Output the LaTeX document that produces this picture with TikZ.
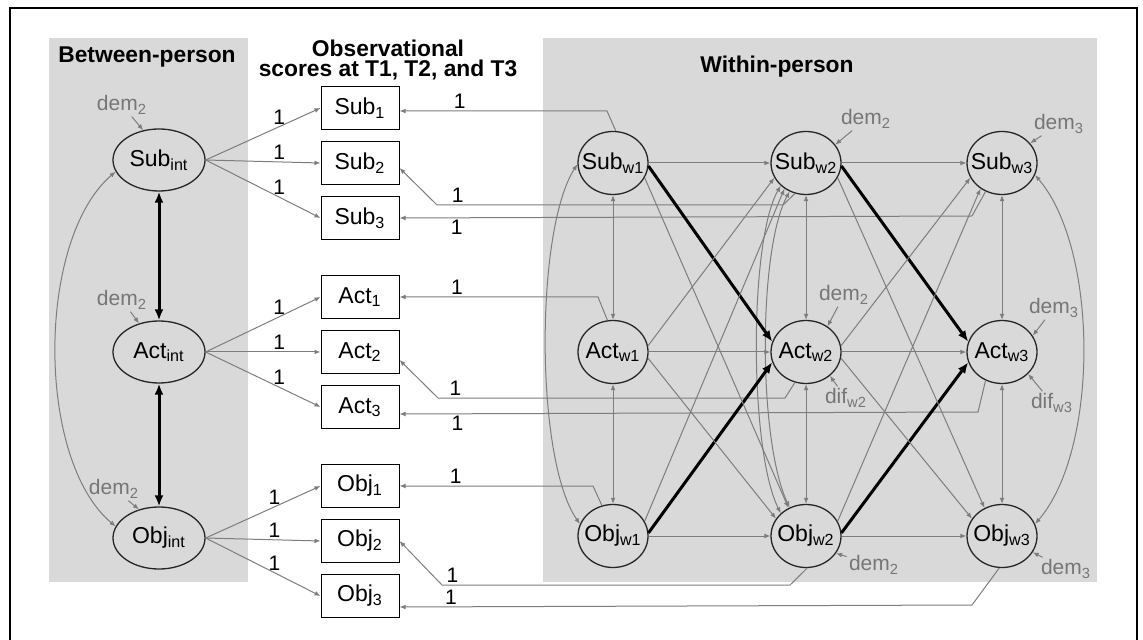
\documentclass[tikz,border=0pt]{standalone}
\usepackage{fontspec}
\setmainfont{Liberation Sans}
\usetikzlibrary{shapes.geometric,arrows.meta,positioning,calc}
\definecolor{panelgray}{RGB}{217,217,217}
\definecolor{linegray}{RGB}{125,125,125}
\definecolor{labelgray}{RGB}{118,118,118}
\tikzstyle{between} = [ellipse, draw=black!85, line width=0.65pt, minimum width=46pt, minimum height=31pt, inner sep=0pt, font=\fontsize{11.5}{12}\selectfont]
\tikzstyle{within} = [ellipse, draw=black!85, line width=0.65pt, minimum width=35pt, minimum height=31.5pt, inner xsep=-4pt, inner ysep=0pt, font=\fontsize{11.5}{12}\selectfont]
\tikzstyle{observed} = [rectangle, draw=black, line width=0.5pt, fill=white, minimum width=39pt, minimum height=21.5pt, inner sep=0pt, font=\fontsize{11.5}{12}\selectfont]
\tikzstyle{arrow} = [draw=linegray, line width=0.5pt, -{Latex[length=3pt,width=2.4pt]}]
\tikzstyle{dblarrow} = [draw=linegray, line width=0.5pt, {Latex[length=3pt,width=2.4pt]}-{Latex[length=3pt,width=2.4pt]}]
\tikzstyle{bigarrow} = [draw=black, line width=1.5pt, -{Latex[length=5.5pt,width=4.5pt]}]
\tikzstyle{bigdbl} = [draw=black, line width=1.5pt, {Latex[length=5.5pt,width=4.5pt]}-{Latex[length=5.5pt,width=4.5pt]}]
\tikzstyle{resid} = [text=labelgray, inner sep=1pt, font=\fontsize{10.5}{12}\selectfont]
\tikzstyle{one} = [inner sep=1pt, font=\fontsize{10.5}{12}\selectfont]
\tikzstyle{title} = [align=center, font=\bfseries\fontsize{11.4}{10}\selectfont]

\begin{document}
\begin{tikzpicture}[x=0.5pt, y=-0.5pt]
\useasboundingbox (0,0) rectangle (1143,640);
\draw[line width=0.8pt] (10,640) -- (10,8) -- (1137,8) -- (1137,640);
\fill[panelgray] (49,38) rectangle (248,582);
\fill[panelgray] (543,38) rectangle (1097,582);

\node[title] (tbetween) at (147,57) {Between-person};
\node[title] (tobs) at (388,60) {Observational\\scores at T1, T2, and T3};
\node[title] (twithin) at (777,67) {Within-person};

% between-person intercepts
\node[between] (Sint) at (159,160) {Sub\textsubscript{int}};
\node[between] (Aint) at (159,352) {Act\textsubscript{int}};
\node[between] (Oint) at (159,538) {Obj\textsubscript{int}};

% observed scores
\node[observed] (Sub1) at (360,108) {Sub\textsubscript{1}};
\node[observed, below=5.5pt of Sub1] (Sub2) {Sub\textsubscript{2}};
\node[observed, below=5.5pt of Sub2] (Sub3) {Sub\textsubscript{3}};
\node[observed] (Act1) at (360,297) {Act\textsubscript{1}};
\node[observed, below=5.5pt of Act1] (Act2) {Act\textsubscript{2}};
\node[observed, below=5.5pt of Act2] (Act3) {Act\textsubscript{3}};
\node[observed] (Obj1) at (360,486) {Obj\textsubscript{1}};
\node[observed, below=5.5pt of Obj1] (Obj2) {Obj\textsubscript{2}};
\node[observed, below=5.5pt of Obj2] (Obj3) {Obj\textsubscript{3}};

% within-person
\node[within] (Sw1) at (613,163) {Sub\textsubscript{w1}};
\node[within] (Sw2) at (806,163) {Sub\textsubscript{w2}};
\node[within] (Sw3) at (1002,163) {Sub\textsubscript{w3}};
\node[within] (Aw1) at (613,352) {Act\textsubscript{w1}};
\node[within] (Aw2) at (806,352) {Act\textsubscript{w2}};
\node[within] (Aw3) at (1002,352) {Act\textsubscript{w3}};
\node[within] (Ow1) at (613,536) {Obj\textsubscript{w1}};
\node[within] (Ow2) at (806,536) {Obj\textsubscript{w2}};
\node[within] (Ow3) at (1002,536) {Obj\textsubscript{w3}};

% covariates
\node[resid] (dSint) at (122,105) {dem\textsubscript{2}};
\node[resid] (dAint) at (122,300) {dem\textsubscript{2}};
\node[resid] (dOint) at (114,489) {dem\textsubscript{2}};
\node[resid] (dSw2) at (866,119) {dem\textsubscript{2}};
\node[resid] (dSw3) at (1059,124) {dem\textsubscript{3}};
\node[resid] (dAw2) at (844,295) {dem\textsubscript{2}};
\node[resid] (dAw3) at (1054,308) {dem\textsubscript{3}};
\node[resid] (fAw2) at (846,398) {dif\textsubscript{w2}};
\node[resid] (fAw3) at (1052,403) {dif\textsubscript{w3}};
\node[resid] (dOw2) at (874,565) {dem\textsubscript{2}};
\node[resid] (dOw3) at (1066,569) {dem\textsubscript{3}};

\draw[arrow] (dSint) -- (Sint.118);
\draw[arrow] (dAint) -- (Aint.125);
\draw[arrow] (dOint) -- (Oint.125);
\draw[arrow] (dSw2) -- (Sw2.32);
\draw[arrow] (dSw3) -- (Sw3.35);
\draw[arrow] (dAw2) -- (Aw2.50);
\draw[arrow] (dAw3) -- (Aw3.28);
\draw[arrow] (fAw2) -- (Aw2.-45);
\draw[arrow] (fAw3) -- (Aw3.-40);
\draw[arrow] (dOw2) -- (Ow2.-30);
\draw[arrow] (dOw3) -- (Ow3.-28);

% between-person paths
\draw[bigdbl] (Sint) -- (Aint);
\draw[bigdbl] (Aint) -- (Oint);
\draw[dblarrow] (Sint.195) .. controls (36,240) and (36,460) .. (Oint.165);
\draw[arrow] (Sint.east) -- node[one, above, pos=0.64] {1} (Sub1.west);
\draw[arrow] (Sint.east) -- node[one, above, pos=0.64] {1} (Sub2.west);
\draw[arrow] (Sint.east) -- node[one, above, pos=0.64] {1} (Sub3.west);
\draw[arrow] (Aint.east) -- node[one, above, pos=0.64] {1} (Act1.west);
\draw[arrow] (Aint.east) -- node[one, above, pos=0.64] {1} (Act2.west);
\draw[arrow] (Aint.east) -- node[one, above, pos=0.64] {1} (Act3.west);
\draw[arrow] (Oint.east) -- node[one, above, pos=0.6] {1} (Obj1.west);
\draw[arrow] (Oint.east) -- node[one, above, pos=0.6] {1} (Obj2.west);
\draw[arrow] (Oint.east) -- node[one, above, pos=0.6] {1} (Obj3.west);

% within-person loadings
\draw[arrow] (Sw1.85) -- (607,111) -- node[one, above, pos=0.71] {1} ([yshift=-1.5pt]Sub1.east);
\draw[arrow] (Sw2.250) -- (783,205) -- node[one, above, pos=0.94] {1} (437,205) -- ([yshift=-2.5pt]Sub2.east);
\draw[arrow] (Sw3.240) -- (972,216) -- node[one, below, pos=0.9] {1} (Sub3.east);
\draw[arrow] (Aw1.100) -- (598,297) -- node[one, above, pos=0.71] {1} (Act1.east);
\draw[arrow] (Aw2.250) -- (785,398) -- node[one, above, pos=0.95] {1} (438,398) -- ([yshift=-4pt]Act2.east);
\draw[arrow] (Aw3.240) -- (978,412) -- node[one, below, pos=0.9] {1} ([yshift=-3.5pt]Act3.east);
\draw[arrow] (Ow1.110) -- (593,486) -- node[one, above, pos=0.71] {1} (Obj1.east);
\draw[arrow] (Ow2.272) -- (790,585) -- node[one, above, pos=0.97] {1} (442,585) -- (Obj2.east);
\draw[arrow] (Ow3.265) -- (972,605) -- node[one, above, pos=0.91] {1} ([yshift=-5.5pt]Obj3.east);

% autoregressive paths
\draw[arrow] (Sw1) -- (Sw2);
\draw[arrow] (Sw2) -- (Sw3);
\draw[arrow] (Aw1) -- (Aw2);
\draw[arrow] (Aw2) -- (Aw3);
\draw[arrow] (Ow1) -- (Ow2);
\draw[arrow] (Ow2) -- (Ow3);

% within-wave covariances
\draw[dblarrow] (Sw1) -- (Aw1);
\draw[dblarrow] (Aw1) -- (Ow1);
\draw[dblarrow] (Sw2) -- (Aw2);
\draw[dblarrow] (Aw2) -- (Ow2);
\draw[dblarrow] (Sw3) -- (Aw3);
\draw[dblarrow] (Aw3) -- (Ow3);
\draw[dblarrow] (Sw1.182) .. controls (535,230) and (535,460) .. (Ow1.160);
\draw[dblarrow] (Sw2.222) .. controls (749,240) and (749,450) .. (Ow2.138);
\draw[dblarrow] (Sw2.240) .. controls (758,250) and (758,440) .. (Ow2.120);
\draw[dblarrow] (Sw3.-20) .. controls (1099,250) and (1099,450) .. (Ow3.20);

% cross-lagged paths
\draw[bigarrow] (Sw1.-5) -- (Aw2.163);
\draw[bigarrow] (Ow1.5) -- (Aw2.197);
\draw[arrow] (Sw1.-25) -- (Ow2.122);
\draw[arrow] (Aw1.10) -- (Sw2.205);
\draw[arrow] (Aw1.-10) -- (Ow2.150);
\draw[arrow] (Ow1.25) -- (Sw2.230);
\draw[bigarrow] (Sw2.-5) -- (Aw3.163);
\draw[bigarrow] (Ow2.5) -- (Aw3.197);
\draw[arrow] (Sw2.-25) -- (Ow3.122);
\draw[arrow] (Aw2.10) -- (Sw3.205);
\draw[arrow] (Aw2.-10) -- (Ow3.150);
\draw[arrow] (Ow2.25) -- (Sw3.230);
\end{tikzpicture}
\end{document}
